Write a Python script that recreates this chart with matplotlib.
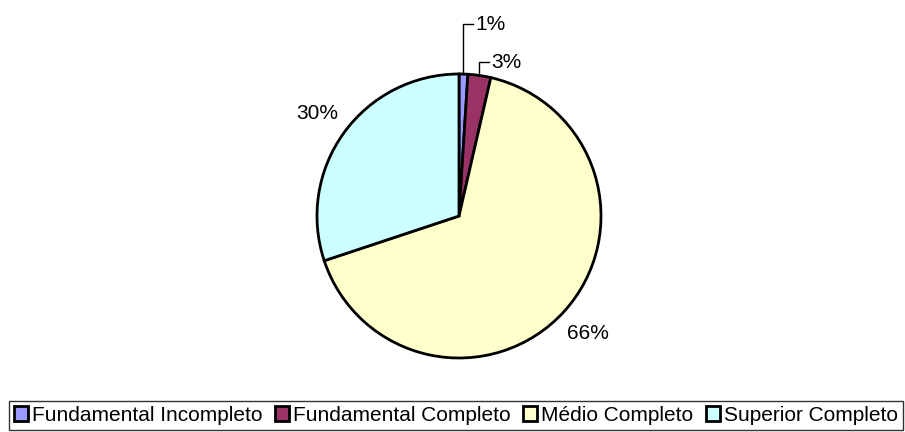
import numpy as np
import matplotlib.pyplot as plt

plt.rcParams['font.family'] = ['Liberation Sans', 'DejaVu Sans']

categorias = ["Fundamental Incompleto", "Fundamental Completo", "Médio Completo", "Superior Completo"]
valores = [1.0, 2.6, 66.3, 30.1]
rotulos = ["1%", "3%", "66%", "30%"]
cores = ["#9999FF", "#993366", "#FFFFCC", "#CCFFFF"]

fig = plt.figure(figsize=(9.05, 4.32), dpi=100)
ax = fig.add_axes([0, 0, 1, 1])

cx, cy, R = 459, 216, 142
wedges, _ = ax.pie(valores, colors=cores, startangle=90, counterclock=False,
                   center=(cx, cy), radius=R,
                   wedgeprops=dict(edgecolor="black", linewidth=2))
ax.set_xlim(0, 905)
ax.set_ylim(0, 432)
ax.set_aspect("equal")
ax.axis("off")

# rotulos com linha guia para as fatias pequenas
altura_guia = [408, 370]
for w, lab, yl in zip(wedges[:2], rotulos[:2], altura_guia):
    ang = np.deg2rad((w.theta1 + w.theta2) / 2)
    x0 = cx + R * np.cos(ang)
    y0 = cy + R * np.sin(ang)
    ax.plot([x0, x0, x0 + 10], [y0, yl, yl], color="black", lw=1)
    ax.text(x0 + 12, yl, lab, fontsize=15, va="center", ha="left")

# rotulos das fatias grandes
for w, lab in zip(wedges[2:], rotulos[2:]):
    ang = np.deg2rad((w.theta1 + w.theta2) / 2)
    ax.text(cx + 1.23 * R * np.cos(ang), cy + 1.23 * R * np.sin(ang), lab,
            fontsize=15, ha="center", va="center")

leg = fig.legend(wedges, categorias, loc="lower center", ncol=4,
                 bbox_to_anchor=(456 / 905, 2 / 432),
                 fontsize=15, frameon=True, fancybox=False, edgecolor="black",
                 handlelength=0.67, handleheight=0.67, handletextpad=0.2,
                 columnspacing=0.6, borderpad=0.25, borderaxespad=0)
leg.get_frame().set_linewidth(1)

fig.savefig("out.png", dpi=100)
